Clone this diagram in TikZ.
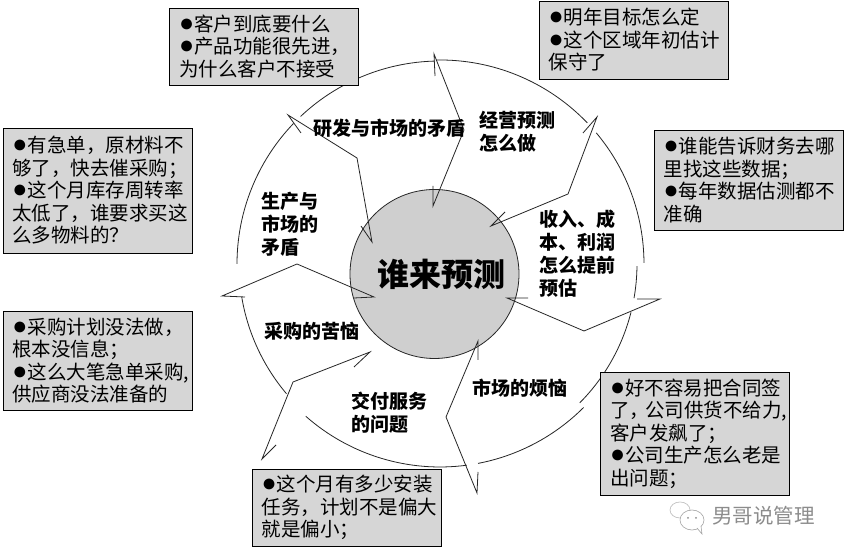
\documentclass[tikz,border=0pt]{standalone}
\usepackage{fontspec}
\setmainfont{Noto Sans CJK SC}
\newfontfamily\bulfont{Liberation Sans}
\usepackage{xcolor}
\usetikzlibrary{positioning}
\definecolor{boxgray}{HTML}{D6D6D6}
\definecolor{hubgray}{HTML}{CFCFCF}
\definecolor{markgray}{HTML}{8C8C8C}
\newcommand{\bul}{{\bulfont\fontsize{25}{22.5}\selectfont ●}}
\newcommand{\ringarc}[3]{\draw[ringline] ([shift={(#1:#3pt)}]ringc) arc[start angle=#1,end angle=#2,radius=#3pt];}
\begin{document}
\begin{tikzpicture}[x=1pt,y=1pt,
  ringline/.style={draw=black!85,line width=0.8pt},
  talkbox/.style={draw=black,fill=boxgray,line width=0.8pt,align=left,inner xsep=9.5pt,inner ysep=0pt,
    text width=170pt,font=\fontsize{19.5}{22.5}\selectfont},
  worrylabel/.style={align=left,inner sep=0pt,font=\fontsize{19}{23}\selectfont\bfseries}]
  \useasboundingbox (0,0) rectangle (844,553);
  \fill[white] (0,0) rectangle (844,553);
  \coordinate (ringc) at (440,289);
  % Centre circle
  \node[circle,draw=black!85,fill=hubgray,line width=0.8pt,minimum size=169pt,inner sep=0pt] (hub) at (434.5,279) {};
  \node[inner sep=0pt,font=\fontsize{32}{36}\selectfont\bfseries] (title) at (441.5,279) {谁来预测};
  % Ring pieces
  \ringarc{133.4}{91.4}{203}
  \ringarc{136.2}{180}{203}
  \ringarc{189.5}{220.2}{201}
  \ringarc{228.6}{277.6}{203}
  \ringarc{280.8}{315}{203}
  \ringarc{315.2}{345.8}{197}
  \ringarc{350}{359.4}{197}
  \ringarc{0.3}{40}{204}
  \ringarc{43.8}{91}{204}
  % Arrows: barb, tip, bend, tip, barb
  \draw[ringline] (301,420) -- (288,438) -- (357,395) -- (372,311) -- (361,327);
  \draw[ringline] (435,477) -- (434,499) -- (464,423) -- (433,347) -- (433,367);
  \draw[ringline] (583,420) -- (597,436) -- (568,359) -- (491,327) -- (505,341);
  \draw[ringline] (637,254) -- (660,254) -- (584,222) -- (507,255) -- (528,255);
  \draw[ringline] (478,81) -- (477,60) -- (446,136) -- (478,212) -- (478,193);
  \draw[ringline] (276,108) -- (262,94) -- (293,171) -- (370,201) -- (354,186);
  \draw[ringline] (245,256) -- (222,257) -- (297,289) -- (374,256) -- (354,255);
  % Labels in the ring
  \node[worrylabel,anchor=west] (rdmarket) at (313,425) {研发与市场的矛盾};
  \node[worrylabel,anchor=west] (forecast) at (479,421) {经营预测\\怎么做};
  \node[worrylabel,anchor=west] (income) at (539,299) {收入、成\\本、利润\\怎么提前\\预估};
  \node[worrylabel,anchor=west] (prodmarket) at (261,329) {生产与\\市场的\\矛盾};
  \node[worrylabel,anchor=west] (buying) at (264,222) {采购的苦恼};
  \node[worrylabel,anchor=west] (delivery) at (351,140) {交付服务\\的问题};
  \node[worrylabel,anchor=west] (selling) at (472,165) {市场的烦恼};
  % Complaint boxes
  \node[talkbox,minimum height=77pt] (customer) at (264,506.5) {\bul 客户到底要什么\\\bul 产品功能很先进，\\为什么客户不接受};
  \node[talkbox,minimum height=78pt] (target) at (633.5,513) {\bul 明年目标怎么定\\\bul 这个区域年初估计\\保守了};
  \node[talkbox,minimum height=100pt] (finance) at (748.5,373) {\bul 谁能告诉财务去哪\\里找这些数据；\\\bul 每年数据估测都不\\准确};
  \node[talkbox,minimum height=125pt] (stock) at (97.5,362.5) {\bul 有急单，原材料不\\够了，快去催采购；\\\bul 这个月库存周转率\\太低了，谁要求买这\\么多物料的？};
  \node[talkbox,minimum height=99pt] (supplier) at (97.5,192.5) {\bul 采购计划没法做，\\根本没信息；\\\bul 这么大笔急单采购,\\供应商没法准备的};
  \node[talkbox,minimum height=77pt] (install) at (346.5,45.5) {\bul 这个月有多少安装\\任务，计划不是偏大\\就是偏小；};
  \node[talkbox,minimum height=123pt] (contract) at (695,119.5) {\bul 好不容易把合同签\\了，\kern-4pt 公司供货不给力,\\客户发飙了；\\\bul 公司生产怎么老是\\出问题；};
  % Watermark
  \draw[markgray!60,line width=0.6pt] (680,43) ellipse (10pt and 8pt);
  \draw[markgray!80,line width=0.6pt,fill=white] (692,33) ellipse (12pt and 10pt);
  \draw[markgray!80,line width=0.6pt,fill=white] (697,25) -- (702,19) -- (701,27);
  \fill[markgray] (688,35) circle (1pt) (696,35) circle (1pt);
  \node[inner sep=0pt,text=markgray,font=\fontsize{20.5}{24}\selectfont,anchor=west] (account) at (712,37) {男哥说管理};
\end{tikzpicture}
\end{document}
